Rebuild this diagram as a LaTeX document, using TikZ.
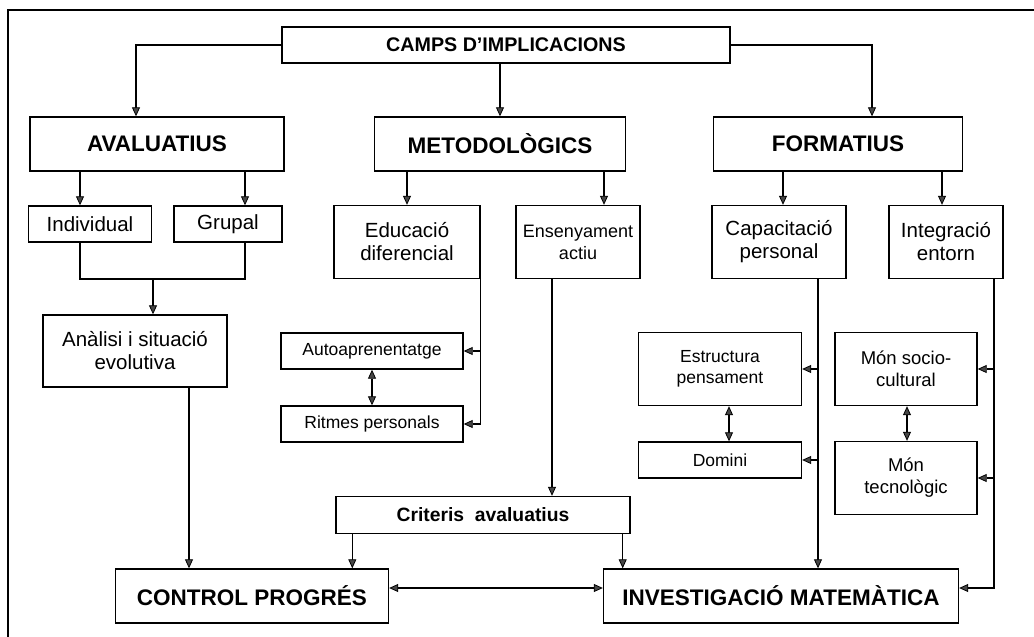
\documentclass[tikz,border=0pt]{standalone}
\usepackage{fontspec}
\setmainfont{Liberation Sans}
\usetikzlibrary{arrows.meta,calc,positioning}

\tikzset{
  box/.style={draw, line width=1.4pt, fill=white, align=center, inner sep=0pt,
    font=\fontsize{20.5}{23}\selectfont},
  smallbox/.style={box, font=\fontsize{17.5}{21}\selectfont},
  bigbox/.style={box, font=\bfseries\fontsize{22.5}{26}\selectfont},
  link/.style={line width=1.1pt},
  arr/.style={link, -{Triangle[length=9pt,width=8pt,fill=gray!55!black,line width=0.8pt]}},
  dblarr/.style={link, {Triangle[length=9pt,width=8pt,fill=gray!55!black,line width=0.8pt]}-{Triangle[length=9pt,width=8pt,fill=gray!55!black,line width=0.8pt]}},
}

\begin{document}
\begin{tikzpicture}[x=1pt,y=-1pt]
\useasboundingbox (0,0) rectangle (1034,637);
% page frame
\draw[line width=1.2pt] (1034,10) -- (8,10) -- (8,637);

% top level
\node[bigbox, font=\bfseries\fontsize{19.7}{23}\selectfont, minimum width=448, minimum height=36] (camps) at (506,45) {CAMPS D'IMPLICACIONS};
\node[bigbox, minimum width=254, minimum height=54] (aval) at (157,144) {AVALUATIUS};
\node[bigbox, minimum width=251, minimum height=54] (metod) at (500,144) {METODOLÒGICS};
\node[bigbox, minimum width=249, minimum height=54] (format) at (838,144) {FORMATIUS};

% second level
\node[box, minimum width=123, minimum height=36] (indiv) at (90,224) {Individual};
\node[box, minimum width=108, minimum height=36] (grupal) at (228,224) {Grupal};
\node[box, minimum width=146, minimum height=73] (educ) at (407,242) {Educació\\diferencial};
\node[box, font=\fontsize{18}{22}\selectfont, minimum width=124, minimum height=73] (ensen) at (578,242) {Ensenyament\\actiu};
\node[box, minimum width=134, minimum height=73] (capac) at (779,242) {Capacitació\\personal};
\node[box, minimum width=114, minimum height=73] (integ) at (946,242) {Integració\\entorn};

% third level
\node[box, minimum width=184, minimum height=72] (anal) at (135,351) {Anàlisi i situació\\evolutiva};
\node[smallbox, minimum width=182, minimum height=36] (auto) at (372,351) {Autoaprenentatge};
\node[smallbox, minimum width=182, minimum height=36] (ritmes) at (372,424) {Ritmes personals};
\node[smallbox, minimum width=163, minimum height=73] (estruct) at (720,369) {Estructura\\pensament};
\node[smallbox, minimum width=163, minimum height=36] (domini) at (720,460) {Domini};
\node[box, font=\fontsize{18.5}{22}\selectfont, minimum width=142, minimum height=73] (msoc) at (906,369) {Món socio-\\cultural};
\node[box, font=\fontsize{18.5}{22}\selectfont, minimum width=142, minimum height=73] (mtec) at (906,478) {Món\\tecnològic};

% bottom
\node[bigbox, font=\bfseries\fontsize{19.3}{23}\selectfont, minimum width=294, minimum height=37] (crit) at (483,515) {Criteris\ \ avaluatius};
\node[bigbox, minimum width=273, minimum height=54] (ctrl) at (252,596) {CONTROL PROGRÉS};
\node[bigbox, minimum width=355, minimum height=54] (invest) at (781,596) {INVESTIGACIÓ MATEMÀTICA};

% from the top box
\draw[arr] (camps.west) -| ([xshift=-21pt]aval.north);
\draw[arr] (camps.south -| metod.north) -- (metod.north);
\draw[arr] (camps.east) -| ([xshift=34pt]format.north);

\draw[arr] ([xshift=-10pt]indiv.north |- aval.south) -- ([xshift=-10pt]indiv.north);
\draw[arr] ([xshift=17pt]grupal.north |- aval.south) -- ([xshift=17pt]grupal.north);
\draw[arr] (educ.north |- metod.south) -- (educ.north);
\draw[arr] ([xshift=26pt]ensen.north |- metod.south) -- ([xshift=26pt]ensen.north);
\draw[arr] ([xshift=4pt]capac.north |- format.south) -- ([xshift=4pt]capac.north);
\draw[arr] ([xshift=-4pt]integ.north |- format.south) -- ([xshift=-4pt]integ.north);

% avaluatius branch
\coordinate (join) at (153,279);
\draw[link] ([xshift=-10pt]indiv.south) |- (join) -| ([xshift=17pt]grupal.south);
\draw[arr] (join) -- (join |- anal.north);
\draw[arr] ([xshift=54pt]anal.south) -- ([xshift=54pt]anal.south |- ctrl.north);

% metodologics branch
\draw[arr] (educ.south east) |- (auto.east);
\draw[arr] (educ.south east) |- (ritmes.east);
\draw[arr] ([xshift=-26pt]ensen.south) -- ([xshift=-26pt]ensen.south |- crit.north);

% formatius branch
\draw[arr] ([xshift=39pt]capac.south) -- ([xshift=39pt]capac.south |- invest.north);
\draw[arr] ([xshift=39pt]capac.south) |- (estruct.east);
\draw[arr] ([xshift=39pt]capac.south) |- (domini.east);
\draw[arr] ([xshift=48pt]integ.south) |- ([yshift=8pt]invest.east);
\draw[arr] ([xshift=48pt]integ.south) |- (msoc.east);
\draw[arr] ([xshift=48pt]integ.south) |- (mtec.east);

% two-way links
\foreach \up/\down/\dx in {auto/ritmes/0, estruct/domini/9, msoc/mtec/1}
  \draw[dblarr] ([xshift=\dx pt]\up.south) -- ([xshift=\dx pt]\down.north);

\draw[arr] ([xshift=17pt]crit.south west) -- ([xshift=17pt]crit.south west |- ctrl.north);
\draw[arr] ([xshift=-8pt]crit.south east) -- ([xshift=-8pt]crit.south east |- invest.north);
\draw[dblarr] ([yshift=8pt]ctrl.east) -- ([yshift=8pt]invest.west);
\end{tikzpicture}
\end{document}
